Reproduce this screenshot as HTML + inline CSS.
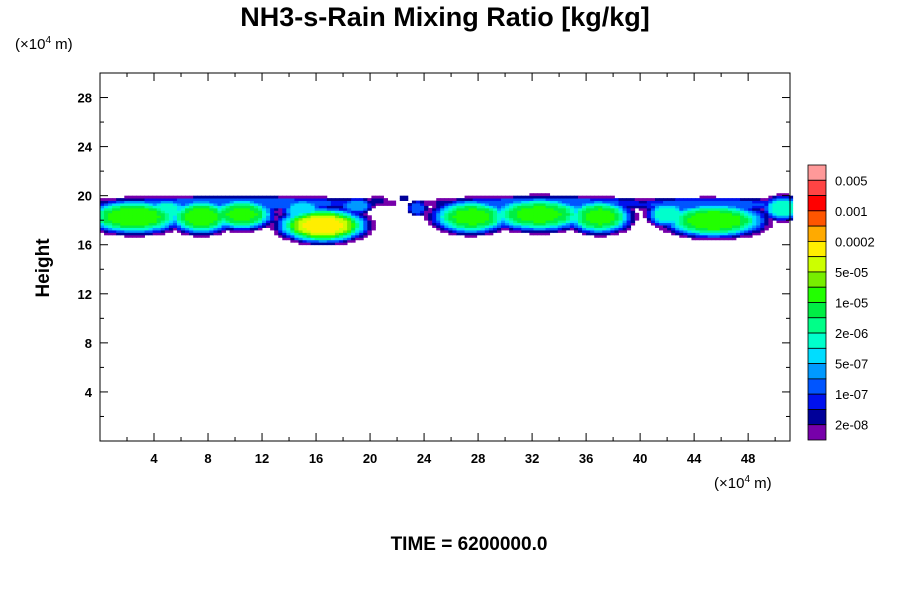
<!DOCTYPE html>
<html><head><meta charset="utf-8"><style>
body{margin:0;background:#fff;font-family:"Liberation Sans",sans-serif}
svg text{font-family:"Liberation Sans",sans-serif}
</style></head><body>
<svg id="c" width="900" height="600" viewBox="0 0 900 600">
<text x="445" y="26" font-size="27" font-weight="bold" text-anchor="middle">NH3-s-Rain Mixing Ratio [kg/kg]</text>
<text x="15" y="49" font-size="15">(×10<tspan dy="-6" font-size="10">4</tspan><tspan dy="6"> m)</tspan></text>
<text x="714" y="488" font-size="15">(×10<tspan dy="-6" font-size="10">4</tspan><tspan dy="6"> m)</tspan></text>
<text transform="translate(49,268) rotate(-90)" font-size="19" font-weight="bold" text-anchor="middle">Height</text>
<text x="469" y="550" font-size="19" font-weight="bold" text-anchor="middle">TIME = 6200000.0</text>
<g id="field"></g>
<g id="axes"></g>
<g id="cbar"></g>
</svg>
<script>
const xTicks=[4,8,12,16,20,24,28,32,36,40,44,48];
const yTicks=[4,8,12,16,20,24,28];
const cbLabels=["0.005","0.001","0.0002","5e-05","1e-05","2e-06","5e-07","1e-07","2e-08"];
const cbColors=["#ff9999","#ff4444","#ff0000","#ff5500","#ffaa00","#ffee00","#ccff00","#77ee00","#22ff00","#00ee44","#00ff88","#00ffcc","#00ddff","#0099ff","#0055ff","#0011ee","#000099","#7700aa"];
// blobs: x center, y center, x spread, y spread, peak level
const blobX=[2.5,7.5,10.5,5,16.5,15,19,23.5,27.5,32.5,37,42,45.5,50.5,10,33,45,20.5,22.5];
const blobY=[18.3,18.3,18.5,18.8,17.6,18.8,19.2,19.0,18.3,18.5,18.3,18.5,18.0,19,19.4,19.4,19.3,19.6,19.8];
const blobSX=[2.9,1.9,1.9,1.2,2.6,1.2,1.0,0.6,2.3,2.9,1.9,1.2,3.0,1.1,9,7,5,0.6,0.4];
const blobSY=[1.1,1.1,1.0,0.8,1.1,0.8,0.5,0.5,1.1,1.1,1.1,0.8,1.1,0.8,0.45,0.45,0.45,0.3,0.2];
const blobA=[11,11,10.5,8,13.6,7,6,5,10.5,10.5,10.5,8,11,8,5,5,5,3,2.5];

const NS="http://www.w3.org/2000/svg";
const X0=100,X1=790,Y0=73,Y1=441,XMAX=51.1,YMAX=30;
const sx=v=>X0+(X1-X0)*v/XMAX, sy=v=>Y1-(Y1-Y0)*v/YMAX;
function mk(tag,attrs,parent){const e=document.createElementNS(NS,tag);for(const k in attrs)e.setAttribute(k,attrs[k]);parent.appendChild(e);return e;}
const field=document.getElementById('field');
const dx=0.3,dy=0.2;
for(let x=0;x<XMAX;x+=dx){for(let y=15.4;y<20.2;y+=dy){
  let v=0;
  for(let i=0;i<blobX.length;i++){const a=(x+dx/2-blobX[i])/blobSX[i],b=(y+dy/2-blobY[i])/blobSY[i];
    const r=a*a+b*b; v=Math.max(v,blobA[i]*Math.exp(-r*r*0.5));}
  if(y+dy>20.0)v=Math.min(v,4);
  if(v<1)continue;
  const lv=Math.min(17,Math.floor(v)-1);
  const r=mk('rect',{x:sx(x),y:sy(y+dy),width:sx(x+dx)-sx(x)+0.4,height:sy(y)-sy(y+dy)+0.4,fill:cbColors[17-lv]},field);
  
  
}}
const ax=document.getElementById('axes');
const frame=mk('rect',{x:X0,y:Y0,width:X1-X0,height:Y1-Y0,fill:'none',stroke:'#000','stroke-width':1},ax);


xTicks.forEach(t=>{const X=sx(t);
  mk('line',{x1:X,x2:X,y1:Y1,y2:Y1-8,stroke:'#000'},ax);mk('line',{x1:X,x2:X,y1:Y0,y2:Y0+8,stroke:'#000'},ax);
  mk('line',{x1:sx(t-2),x2:sx(t-2),y1:Y1,y2:Y1-4,stroke:'#000'},ax);mk('line',{x1:sx(t-2),x2:sx(t-2),y1:Y0,y2:Y0+4,stroke:'#000'},ax);
  const tx=mk('text',{x:X,y:Y1+22,'font-size':13,'font-weight':'bold','text-anchor':'middle'},ax);tx.textContent=t;
  
  
});
mk('line',{x1:sx(50),x2:sx(50),y1:Y1,y2:Y1-4,stroke:'#000'},ax);
yTicks.forEach(t=>{const Y=sy(t);
  mk('line',{x1:X0,x2:X0+8,y1:Y,y2:Y,stroke:'#000'},ax);mk('line',{x1:X1,x2:X1-8,y1:Y,y2:Y,stroke:'#000'},ax);
  mk('line',{x1:X0,x2:X0+4,y1:sy(t-2),y2:sy(t-2),stroke:'#000'},ax);mk('line',{x1:X1,x2:X1-4,y1:sy(t-2),y2:sy(t-2),stroke:'#000'},ax);
  const tx=mk('text',{x:X0-8,y:Y+5,'font-size':13,'font-weight':'bold','text-anchor':'end'},ax);tx.textContent=t;
  
  
});
const cb=document.getElementById('cbar');
const CX=808,CW=18,CY0=165,CH=275/18;
cbColors.forEach((c,i)=>{const r=mk('rect',{x:CX,y:CY0+i*CH,width:CW,height:CH,fill:c,stroke:'#000','stroke-width':0.8},cb);
  
  });
cbLabels.forEach((l,i)=>{const t=mk('text',{x:835,y:CY0+(2*i+1)*CH+5,'font-size':13},cb);t.textContent=l;
  
  });
</script>
</body></html>
